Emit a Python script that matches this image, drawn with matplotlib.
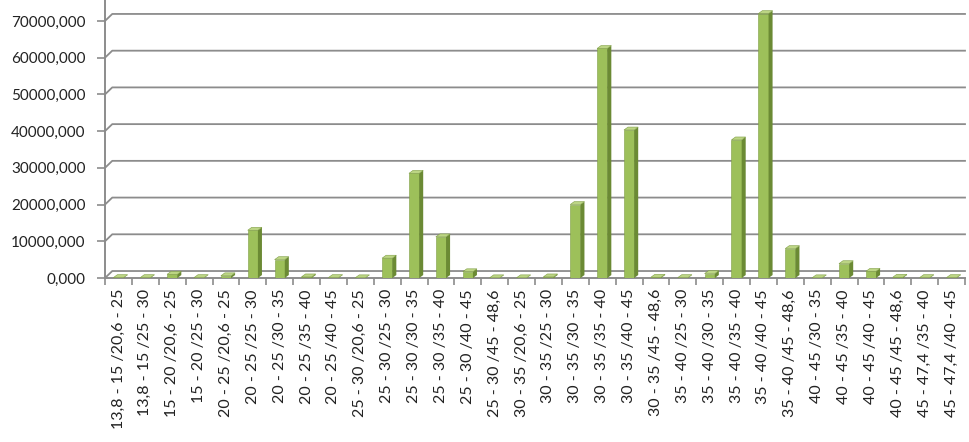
import matplotlib
matplotlib.use("Agg")
import matplotlib.pyplot as plt
from matplotlib.patches import Polygon
from matplotlib.ticker import FuncFormatter

# Category labels (group / sub-range)
categories = [
    "13,8 - 15 /20,6 - 25", "13,8 - 15 /25 - 30", "15 - 20 /20,6 - 25", "15 - 20 /25 - 30",
    "20 - 25 /20,6 - 25", "20 - 25 /25 - 30", "20 - 25 /30 - 35", "20 - 25 /35 - 40",
    "20 - 25 /40 - 45", "25 - 30 /20,6 - 25", "25 - 30 /25 - 30", "25 - 30 /30 - 35",
    "25 - 30 /35 - 40", "25 - 30 /40 - 45", "25 - 30 /45 - 48,6", "30 - 35 /20,6 - 25",
    "30 - 35 /25 - 30", "30 - 35 /30 - 35", "30 - 35 /35 - 40", "30 - 35 /40 - 45",
    "30 - 35 /45 - 48,6", "35 - 40 /25 - 30", "35 - 40 /30 - 35", "35 - 40 /35 - 40",
    "35 - 40 /40 - 45", "35 - 40 /45 - 48,6", "40 - 45 /30 - 35", "40 - 45 /35 - 40",
    "40 - 45 /40 - 45", "40 - 45 /45 - 48,6", "45 - 47,4 /35 - 40", "45 - 47,4 /40 - 45",
]

# Values
values = [
    100000, 100000, 1000000, 100000,
    600000, 13000000, 5000000, 300000,
    100000, 50000, 5400000, 28500000,
    11200000, 1700000, 50000, 50000,
    300000, 20000000, 62500000, 40300000,
    200000, 100000, 1200000, 37600000,
    72000000, 8000000, 50000, 3900000,
    1800000, 200000, 100000, 100000,
]

yticks = [0, 10000000, 20000000, 30000000, 40000000, 50000000, 60000000, 70000000]

FRONT = "#9DC05A"
SIDE = "#6B8A34"
TOP = "#BCD584"
GRID = "#8C8C8C"

plt.rcParams["font.family"] = ["Lato", "DejaVu Sans"]

fig = plt.figure(figsize=(9.69, 4.42), dpi=100)
ax = fig.add_axes([105 / 969, 1 - 278 / 442, 860 / 969, 278 / 442])

n = len(categories)
ymax = 75700000
ax.set_xlim(-0.5, n - 0.5)
ax.set_ylim(0, ymax)

# 3D-ish offsets in data units
w = 0.38
dx = 0.15
dy = 800000
gdx = 0.27
gdy = 1900000

# gridlines on the back wall
for v in yticks:
    ax.plot([-0.5, -0.5 + gdx, n - 0.5], [v, v + gdy, v + gdy],
            color=GRID, lw=1.3, zorder=1, clip_on=False)

for i, h in enumerate(values):
    x0 = i - w / 2
    x1 = i + w / 2
    ax.bar(i, h, width=w, color=FRONT, edgecolor="#7F9E45", lw=0.4, zorder=3)
    side = Polygon([(x1, 0), (x1 + dx, dy), (x1 + dx, h + dy), (x1, h)],
                   closed=True, facecolor=SIDE, edgecolor="none", zorder=3)
    top = Polygon([(x0, h), (x1, h), (x1 + dx, h + dy), (x0 + dx, h + dy)],
                  closed=True, facecolor=TOP, edgecolor="#7F9E45", lw=0.4, zorder=4)
    ax.add_patch(side)
    ax.add_patch(top)

ax.yaxis.set_major_formatter(FuncFormatter(lambda v, p: f"{int(v / 1000)},000"))
ax.set_yticks(yticks)
ax.set_xticks(range(n))
ax.set_xticklabels(categories, rotation=90, fontsize=11.5, color="#222222")
ax.set_xticks([i - 0.5 for i in range(n + 1)], minor=True)
ax.tick_params(axis="x", which="major", length=0, pad=8)
ax.tick_params(axis="x", which="minor", length=5, color=GRID, width=1.2)
ax.tick_params(axis="y", length=6, color=GRID, width=1.2, labelsize=11,
               labelcolor="#222222", pad=8)

for s in ["top", "right"]:
    ax.spines[s].set_visible(False)
for s in ["left", "bottom"]:
    ax.spines[s].set_color(GRID)
    ax.spines[s].set_linewidth(1.4)

fig.savefig("out.png", dpi=100)
